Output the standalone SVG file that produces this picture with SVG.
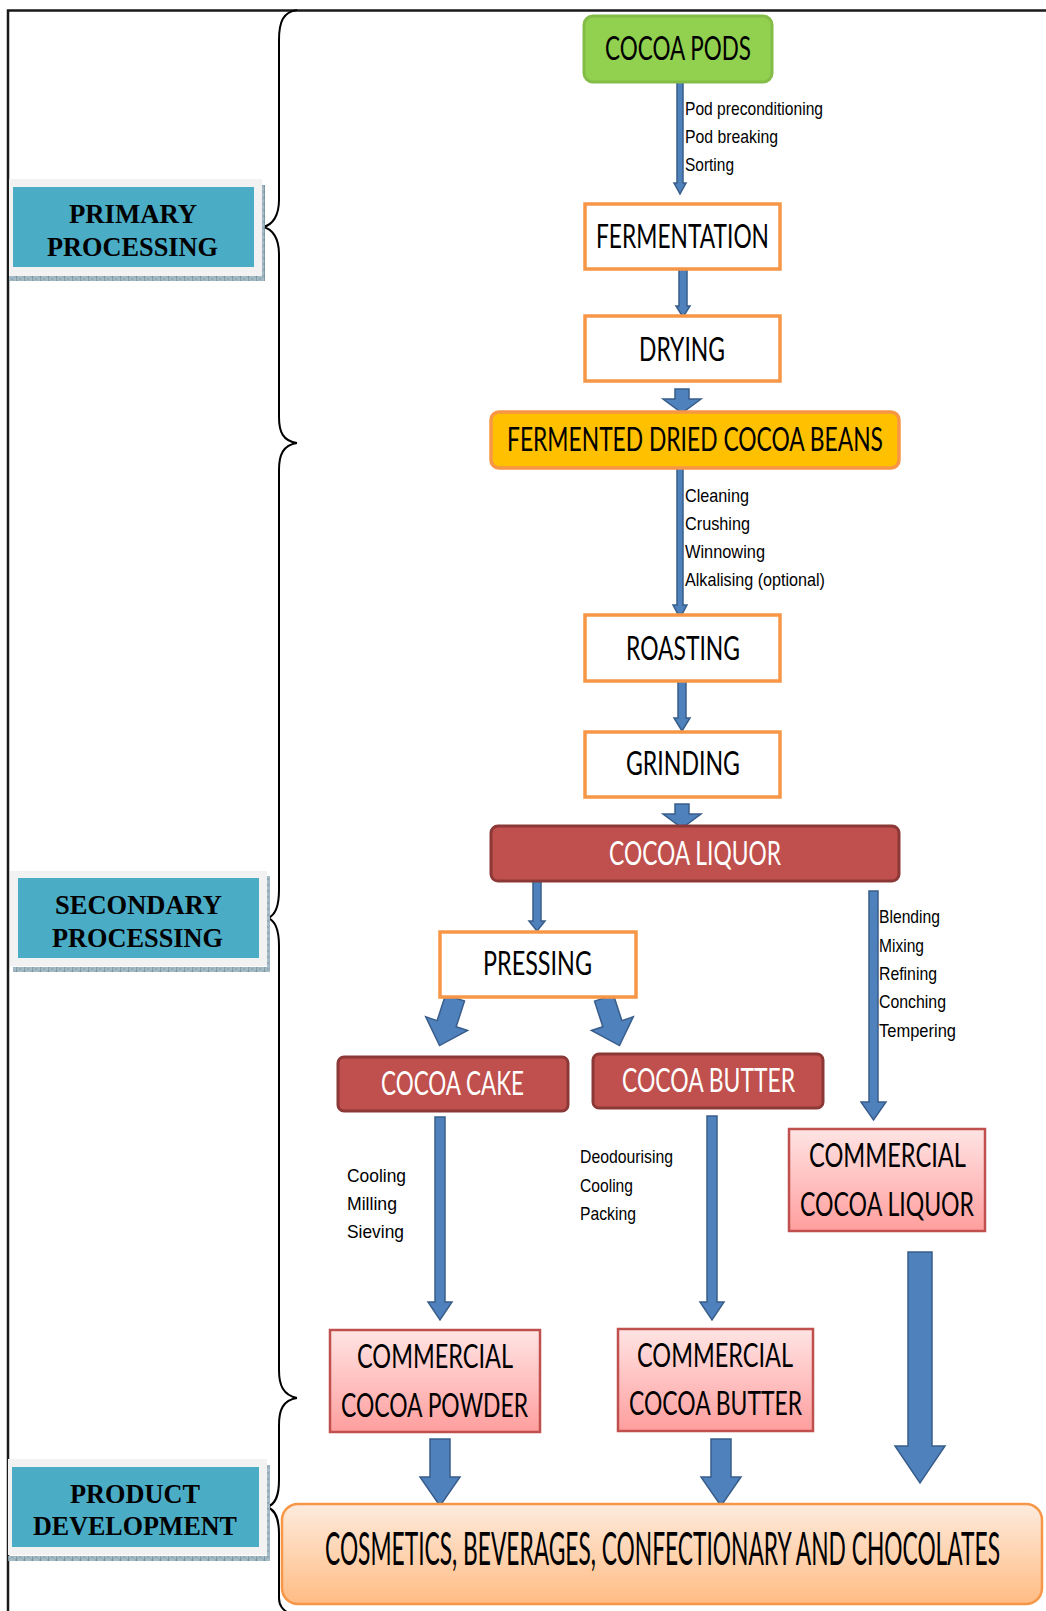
<svg xmlns="http://www.w3.org/2000/svg" width="1046" height="1611" viewBox="0 0 1046 1611">
<style>
.frame{fill:none;stroke:#1a1a1a;stroke-width:2.5}
.brace{fill:none;stroke:#000;stroke-width:2}
.panel{fill:#F2F2F2}
.teal{fill:#4BACC6}
.hatch{fill:url(#hatch)}
.lbl{font-family:"Liberation Serif","Times New Roman",serif;font-weight:bold;font-size:27px;fill:#000}
.box{font-family:Lato,"Open Sans",sans-serif;font-size:32px;fill:#000}
.wt{fill:#fff}
.step{font-family:"Liberation Sans",Arial,sans-serif;font-size:19px;fill:#000}
.orange{fill:#fff;stroke:#F79646;stroke-width:3.5}
.red{fill:#C0504D;stroke:#8C3836;stroke-width:3}
.comm{fill:url(#pink);stroke:#C0504D;stroke-width:2.5}
.arr{fill:#4F81BD;stroke:#385D8A;stroke-width:1.5;stroke-linejoin:miter}
</style>
<defs>
<pattern id="hatch" width="8" height="6" patternUnits="userSpaceOnUse">
<rect width="8" height="6" fill="#A7BCC6"/>
<path d="M0,0 L8,6 M8,0 L0,6" stroke="#7E9BA8" stroke-width="0.6"/>
<path d="M0,0 V6" stroke="#5B7A88" stroke-width="1"/>
</pattern>
<linearGradient id="pink" x1="0" y1="0" x2="0" y2="1">
<stop offset="0" stop-color="#FFE4E4"/>
<stop offset="1" stop-color="#FF9E9E"/>
</linearGradient>
<linearGradient id="peach" x1="0" y1="0" x2="0" y2="1">
<stop offset="0" stop-color="#FDEBDD"/>
<stop offset="1" stop-color="#FFBC84"/>
</linearGradient>
</defs>

<rect width="1046" height="1611" fill="#fff"/>
<path class="frame" d="M8,1611 V10.5 H1046"/>

<g id="braces">
<path class="brace" d="M297,10 C283,12 279,22 279,40 V200 C279,215 273,225 263,227 C273,229 279,239 279,254 V417 C279,432 283,441 297,443"/>
<path class="brace" d="M297,443 C283,445 279,455 279,470 V890 C279,905 276,915 268,918 C276,921 279,931 279,946 V1370 C279,1385 283,1395 297,1398"/>
<path class="brace" d="M297,1398 C283,1400 279,1410 279,1425 V1480 C279,1495 276,1504 267,1507 C276,1510 279,1519 279,1534 V1598 C279,1606 283,1610 290,1614"/>
</g>

<g id="primary-processing">
<rect class="panel" x="9" y="179" width="253" height="97"/>
<rect class="teal" x="13" y="187" width="241" height="80"/>
<rect class="hatch" x="9" y="276" width="256" height="5"/>
<rect class="hatch" x="262" y="185" width="3" height="96"/>
<text class="lbl" x="69" y="223" textLength="128" lengthAdjust="spacingAndGlyphs">PRIMARY</text>
<text class="lbl" x="47" y="256" textLength="171" lengthAdjust="spacingAndGlyphs">PROCESSING</text>
</g>

<g id="secondary-processing">
<rect class="panel" x="10" y="871" width="257" height="95"/>
<rect class="teal" x="18" y="878" width="241" height="80"/>
<rect class="hatch" x="13" y="967" width="256" height="5"/>
<rect class="hatch" x="267" y="876" width="3" height="96"/>
<text class="lbl" x="55" y="914" textLength="167" lengthAdjust="spacingAndGlyphs">SECONDARY</text>
<text class="lbl" x="52" y="947" textLength="171" lengthAdjust="spacingAndGlyphs">PROCESSING</text>
</g>

<g id="product-development">
<rect class="panel" x="8" y="1459" width="259" height="96"/>
<rect class="teal" x="12" y="1467" width="247" height="80"/>
<rect class="hatch" x="8" y="1556" width="262" height="5"/>
<rect class="hatch" x="267" y="1465" width="3" height="96"/>
<text class="lbl" x="70" y="1503" textLength="130" lengthAdjust="spacingAndGlyphs">PRODUCT</text>
<text class="lbl" x="33" y="1535" textLength="204" lengthAdjust="spacingAndGlyphs">DEVELOPMENT</text>
</g>

<g id="connectors">
<path class="arr" d="M677,79 H683 V183 H686 L680,194 L674,183 H677 Z"/>
<path class="arr" d="M679,265 H687 V306 H690 L683,317 L676,306 H679 Z"/>
<path class="arr" d="M675,389 H689 V399 H701 L682,413 L663,399 H675 Z"/>
<path class="arr" d="M677,467 H683 V605 H687 L680,618 L673,605 H677 Z"/>
<path class="arr" d="M678,679 H686 V718 H690 L682,731 L674,718 H678 Z"/>
<path class="arr" d="M675,804 H689 V814 H701 L682,828 L663,814 H675 Z"/>
<path class="arr" d="M533,879 H541 V921 H545 L537,931 L529,921 H533 Z"/>
<path class="arr" d="M869,891 H878 V1102 H886 L873.5,1120 L861,1102 H869 Z"/>
<path class="arr" d="M435,1117 H445 V1302 H452 L440,1320 L428,1302 H435 Z"/>
<path class="arr" d="M707,1116 H717 V1302 H724 L712,1320 L700,1302 H707 Z"/>
<path class="arr" d="M908,1252 H932 V1446 H945 L920,1483 L895,1446 H908 Z"/>
<path class="arr" d="M430,1439 H450 V1477 H460 L440,1506 L420,1477 H430 Z"/>
<path class="arr" d="M711,1439 H731 V1477 H741 L721,1506 L701,1477 H711 Z"/>
<path class="arr" transform="translate(455,998) rotate(18)" d="M-10,0 H10 V27 H22 L0,50 L-22,27 H-10 Z"/>
<path class="arr" transform="translate(604,998) rotate(-18)" d="M-10,0 H10 V27 H22 L0,50 L-22,27 H-10 Z"/>
</g>

<g id="step-labels">
<text class="step" x="685" y="115" textLength="138" lengthAdjust="spacingAndGlyphs">Pod preconditioning</text>
<text class="step" x="685" y="143" textLength="93" lengthAdjust="spacingAndGlyphs">Pod breaking</text>
<text class="step" x="685" y="171" textLength="49" lengthAdjust="spacingAndGlyphs">Sorting</text>
<text class="step" x="685" y="502" textLength="64" lengthAdjust="spacingAndGlyphs">Cleaning</text>
<text class="step" x="685" y="530" textLength="65" lengthAdjust="spacingAndGlyphs">Crushing</text>
<text class="step" x="685" y="558" textLength="80" lengthAdjust="spacingAndGlyphs">Winnowing</text>
<text class="step" x="685" y="586" textLength="140" lengthAdjust="spacingAndGlyphs">Alkalising (optional)</text>
<text class="step" x="879" y="923" textLength="61" lengthAdjust="spacingAndGlyphs">Blending</text>
<text class="step" x="879" y="952" textLength="45" lengthAdjust="spacingAndGlyphs">Mixing</text>
<text class="step" x="879" y="980" textLength="58" lengthAdjust="spacingAndGlyphs">Refining</text>
<text class="step" x="879" y="1008" textLength="67" lengthAdjust="spacingAndGlyphs">Conching</text>
<text class="step" x="879" y="1037" textLength="77" lengthAdjust="spacingAndGlyphs">Tempering</text>
<text class="step" x="347" y="1182" textLength="59" lengthAdjust="spacingAndGlyphs">Cooling</text>
<text class="step" x="347" y="1210" textLength="50" lengthAdjust="spacingAndGlyphs">Milling</text>
<text class="step" x="347" y="1238" textLength="57" lengthAdjust="spacingAndGlyphs">Sieving</text>
<text class="step" x="580" y="1163" textLength="93" lengthAdjust="spacingAndGlyphs">Deodourising</text>
<text class="step" x="580" y="1192" textLength="53" lengthAdjust="spacingAndGlyphs">Cooling</text>
<text class="step" x="580" y="1220" textLength="56" lengthAdjust="spacingAndGlyphs">Packing</text>
</g>

<g id="cocoa-pods">
<rect x="584" y="16" width="188" height="66" rx="9" fill="#92D050" stroke="#84BC48" stroke-width="3"/>
<text class="box" x="605" y="60" textLength="146" lengthAdjust="spacingAndGlyphs">COCOA PODS</text>
</g>
<g id="fermentation">
<rect class="orange" x="585" y="204" width="195" height="65"/>
<text class="box" x="596" y="248" font-size="34" textLength="173" lengthAdjust="spacingAndGlyphs">FERMENTATION</text>
</g>
<g id="drying">
<rect class="orange" x="585" y="316" width="195" height="65"/>
<text class="box" x="639" y="361" textLength="86" lengthAdjust="spacingAndGlyphs">DRYING</text>
</g>
<g id="fermented-dried-cocoa-beans">
<rect x="491" y="412" width="408" height="56" rx="8" fill="#FFC000" stroke="#F79646" stroke-width="3.5"/>
<text class="box" x="507" y="451" textLength="376" lengthAdjust="spacingAndGlyphs">FERMENTED DRIED COCOA BEANS</text>
</g>
<g id="roasting">
<rect class="orange" x="585" y="615" width="195" height="66"/>
<text class="box" x="626" y="660" textLength="114" lengthAdjust="spacingAndGlyphs">ROASTING</text>
</g>
<g id="grinding">
<rect class="orange" x="585" y="732" width="195" height="65"/>
<text class="box" x="626" y="775" textLength="114" lengthAdjust="spacingAndGlyphs">GRINDING</text>
</g>
<g id="cocoa-liquor">
<rect class="red" x="491" y="826" width="408" height="55" rx="7"/>
<text class="box wt" x="609" y="865" textLength="172" lengthAdjust="spacingAndGlyphs">COCOA LIQUOR</text>
</g>
<g id="pressing">
<rect class="orange" x="440" y="932" width="196" height="65"/>
<text class="box" x="483" y="975" textLength="109" lengthAdjust="spacingAndGlyphs">PRESSING</text>
</g>
<g id="cocoa-cake">
<rect class="red" x="338" y="1057" width="230" height="54" rx="6"/>
<text class="box wt" x="381" y="1095" textLength="143" lengthAdjust="spacingAndGlyphs">COCOA CAKE</text>
</g>
<g id="cocoa-butter">
<rect class="red" x="593" y="1054" width="230" height="54" rx="6"/>
<text class="box wt" x="622" y="1092" textLength="173" lengthAdjust="spacingAndGlyphs">COCOA BUTTER</text>
</g>
<g id="commercial-cocoa-liquor">
<rect class="comm" x="789" y="1129" width="196" height="102"/>
<text class="box" x="809" y="1167" textLength="157" lengthAdjust="spacingAndGlyphs">COMMERCIAL</text>
<text class="box" x="800" y="1216" textLength="174" lengthAdjust="spacingAndGlyphs">COCOA LIQUOR</text>
</g>
<g id="commercial-cocoa-powder">
<rect class="comm" x="330" y="1330" width="210" height="102"/>
<text class="box" x="357" y="1368" textLength="156" lengthAdjust="spacingAndGlyphs">COMMERCIAL</text>
<text class="box" x="341" y="1417" textLength="187" lengthAdjust="spacingAndGlyphs">COCOA POWDER</text>
</g>
<g id="commercial-cocoa-butter">
<rect class="comm" x="618" y="1329" width="195" height="102"/>
<text class="box" x="637" y="1367" textLength="156" lengthAdjust="spacingAndGlyphs">COMMERCIAL</text>
<text class="box" x="629" y="1415" textLength="173" lengthAdjust="spacingAndGlyphs">COCOA BUTTER</text>
</g>
<g id="products">
<rect x="282" y="1504" width="760" height="100" rx="16" fill="url(#peach)" stroke="#F79646" stroke-width="2.5"/>
<text class="box" transform="translate(325,1565) scale(1,1.45)" x="0" y="0" font-size="21.5" textLength="675" lengthAdjust="spacingAndGlyphs">COSMETICS, BEVERAGES, CONFECTIONARY AND CHOCOLATES</text>
</g>
</svg>
